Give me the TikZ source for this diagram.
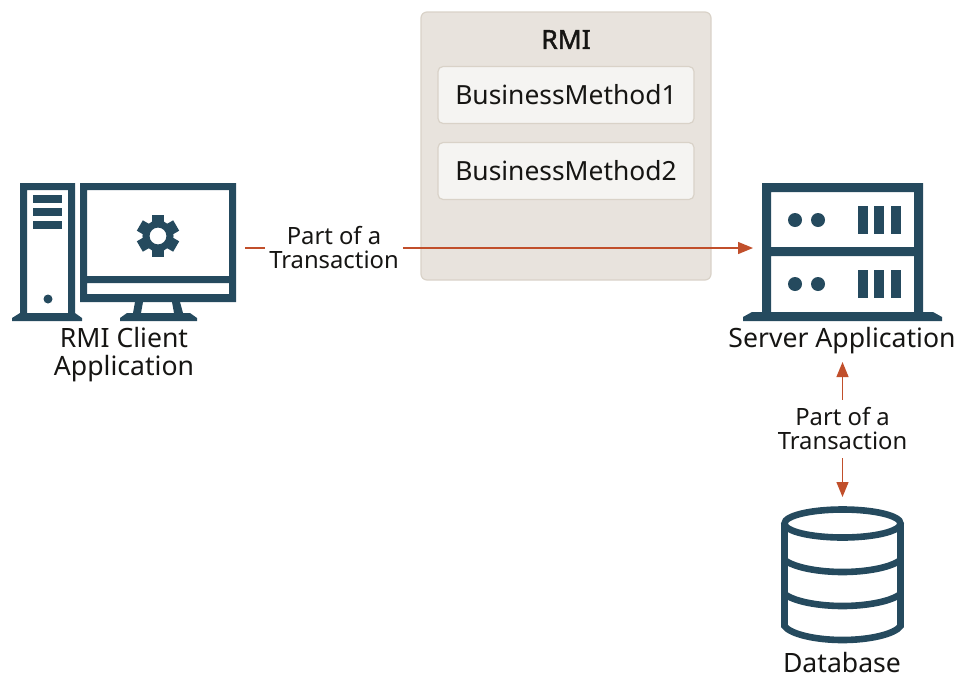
\documentclass[tikz,border=0pt]{standalone}
\usepackage{fontspec}
\setmainfont{Noto Sans}
\newfontfamily\rmifont[FakeBold=1.6]{Noto Sans}
\definecolor{icon}{HTML}{254A5E}
\definecolor{link}{HTML}{C14F2B}
\definecolor{panel}{HTML}{E8E3DD}
\definecolor{panelline}{HTML}{D9D2C8}
\definecolor{method}{HTML}{F5F4F2}
\definecolor{ink}{HTML}{161513}
\usetikzlibrary{arrows.meta}
\tikzset{
  caption/.style={text=ink,align=center,inner sep=0pt,font=\fontsize{26.6}{28.5}\selectfont},
  linklabel/.style={text=ink,align=center,inner xsep=4pt,inner ysep=8pt,font=\fontsize{23.8}{24}\selectfont},
  methodbox/.style={draw=panelline,line width=1.2pt,fill=method,rounded corners=5pt,text=ink,
    minimum width=256pt,minimum height=57pt,inner sep=0pt,font=\fontsize{26.4}{28}\selectfont},
  linkline/.style={draw=link,line width=1.3pt},
  linkarrow/.style={linkline,-{Triangle[length=15pt,width=12pt]}},
  dbline/.style={draw=icon,line width=6.6pt}
}
\begin{document}
\begin{tikzpicture}[x=1pt,y=-1pt]
\useasboundingbox (0,0) rectangle (958,675);
% RMI panel
\draw[draw=panelline,line width=1.2pt,fill=panel,rounded corners=6pt] (421,12) rectangle (711,280);
\node[text=ink,inner sep=0pt,font=\fontsize{26.4}{28}\selectfont\rmifont] (rmi) at (566,39.5) {RMI};
\node[methodbox] (method1) at (566,95) {BusinessMethod1};
\node[methodbox] (method2) at (566,171) {BusinessMethod2};
% client computer
\fill[icon,even odd rule] (20,183) rectangle (75,313) (27,190) rectangle (68,313);
\fill[icon] (12,321) -- (12,318) -- (20,313) -- (75,313) -- (82,318) -- (82,321) -- cycle;
\fill[icon] (33,195) rectangle (62,203);
\fill[icon] (33,208) rectangle (62,216);
\fill[icon] (33,221) rectangle (62,229);
\fill[icon] (48,299) circle (4.5);
\fill[icon,even odd rule] (80,183) rectangle (236,302) (87,190) rectangle (229,276) (87,283) rectangle (229,294);
\fill[icon] (135,302) -- (143,302) -- (141,313) -- (174,313) -- (172,302) -- (180,302) -- (183,313) -- (190,313) -- (197,318) -- (197,321) -- (120,321) -- (120,318) -- (127,313) -- (133,313) -- cycle;
\draw[icon,line width=7pt] (158,236) circle (12);
\foreach \a in {0,60,...,300}
  \fill[icon,rotate around={\a:(158,236)}] (152,215) rectangle (164,226);
% server
\fill[icon,even odd rule] (762,183) rectangle (923,312) (771,192) rectangle (914,247) (771,256) rectangle (914,312);
\fill[icon] (743,321) -- (743,317) -- (752,312) -- (933,312) -- (942,317) -- (942,321) -- cycle;
\foreach \y in {220,284} {
  \fill[icon] (795,\y) circle (7);
  \fill[icon] (818,\y) circle (7);
  \foreach \x in {858,874,891}
    \fill[icon] (\x,\y-14) rectangle (\x+9.5,\y+14);
}
% database
\draw[dbline] (842.5,523.5) ellipse [x radius=58,y radius=14];
\draw[dbline] (784.5,523.5) -- (784.5,626) .. controls (790,634) and (815,640) .. (842.5,640) .. controls (870,640) and (895,634) .. (900.5,626) -- (900.5,523.5);
\draw[dbline] (784.5,560) .. controls (795,568) and (820,572) .. (842.5,572) .. controls (865,572) and (890,568) .. (900.5,560);
\draw[dbline] (784.5,594) .. controls (795,602) and (820,606) .. (842.5,606) .. controls (865,606) and (890,602) .. (900.5,594);
% captions
\node[caption] (clientname) at (124,354.5) {RMI Client\\Application};
\node[caption] (servername) at (842,341) {Server Application};
\node[caption] (dbname) at (842,662.5) {Database};
% connectors
\coordinate (clientport) at (245,248);
\coordinate (serverport) at (753,248);
\coordinate (appport) at (842.5,362);
\coordinate (dbport) at (842.5,497);
\node[linklabel] (clientlink) at (334,248) {Part of a\\Transaction};
\node[linklabel] (dblink) at (842.5,429) {Part of a\\Transaction};
\draw[linkline] (clientport) -- (clientlink.west);
\draw[linkarrow] (clientlink.east) -- (serverport);
\draw[linkarrow] (dblink.north) -- (appport);
\draw[linkarrow] (dblink.south) -- (dbport);
\end{tikzpicture}
\end{document}
